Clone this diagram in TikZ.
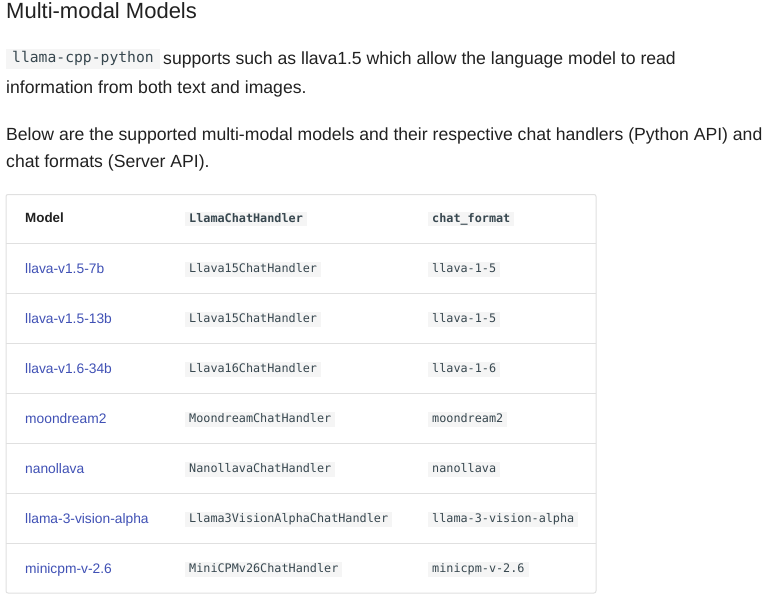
\documentclass[tikz,border=0pt]{standalone}
\usepackage{fontspec}
\setmainfont{Liberation Sans}
\setmonofont{DejaVu Sans Mono}
\definecolor{fg}{HTML}{212121}
\definecolor{linkc}{HTML}{4051B5}
\definecolor{rule}{HTML}{E0E0E0}
\definecolor{codebg}{HTML}{F5F5F5}
\definecolor{codefg}{HTML}{37474F}
\begin{document}
\begin{tikzpicture}[x=1pt,y=-1pt,
  txt/.style={inner sep=0pt, anchor=base west, text=fg, font=\fontsize{17.6}{22}\selectfont},
  titletxt/.style={inner sep=0pt, anchor=base west, text=fg, font=\fontsize{22}{26}\selectfont},
  inlinecode/.style={fill=codebg, text=codefg, inner xsep=6pt, inner ysep=2.5pt, text height=11pt, text depth=4pt, anchor=west, font=\ttfamily\fontsize{14.7}{18}\selectfont},
  cellcode/.style={fill=codebg, text=codefg, inner xsep=4pt, inner ysep=1.2pt, text height=9.2pt, text depth=3pt, anchor=west, font=\ttfamily\fontsize{11.8}{14}\selectfont},
  headcode/.style={cellcode, font=\ttfamily\bfseries\fontsize{11.8}{14}\selectfont},
  linktxt/.style={inner sep=0pt, anchor=base west, text=linkc, font=\fontsize{13.8}{16}\selectfont},
  headtxt/.style={inner sep=0pt, anchor=base west, text=fg, font=\bfseries\fontsize{13.4}{16}\selectfont},
  rowrule/.style={draw=rule, line width=1pt}
]
\useasboundingbox[fill=white] (0,0) rectangle (770,606);

% title and paragraphs
\node[titletxt] (title) at (6,18.5) {Multi-modal Models};
\node[inlinecode] (lcp) at (6,59) {llama-cpp-python};
\node[txt] (p1a) at (163,64) {supports such as llava1.5 which allow the language model to read};
\node[txt] (p1b) at (6,93) {information from both text and images.};
\node[txt] (p2a) at (6,140) {Below are the supported multi-modal models and their respective chat handlers (Python API) and};
\node[txt] (p2b) at (6,167) {chat formats (Server API).};

% table frame
\draw[rule, line width=1pt, rounded corners=2pt] (6,194.5) rectangle (596,593);
\foreach \k in {0,...,6} {
  \draw[rowrule] (6,243+50*\k) -- (596,243+50*\k);
}

% header
\node[headtxt] (hm) at (25,222.5) {Model};
\node[headcode] (hh) at (185,219) {LlamaChatHandler};
\node[headcode] (hf) at (428,219) {chat\_format};

% rows
\foreach \m/\h/\f [count=\i] in {
  llava-v1.5-7b/Llava15ChatHandler/llava-1-5,
  llava-v1.5-13b/Llava15ChatHandler/llava-1-5,
  llava-v1.6-34b/Llava16ChatHandler/llava-1-6,
  moondream2/MoondreamChatHandler/moondream2,
  nanollava/NanollavaChatHandler/nanollava,
  llama-3-vision-alpha/Llama3VisionAlphaChatHandler/llama-3-vision-alpha,
  minicpm-v-2.6/MiniCPMv26ChatHandler/minicpm-v-2.6} {
  \node[linktxt] (m\i) at (25,273+50*\i-50) {\m};
  \node[cellcode] (h\i) at (185,269.5+50*\i-50) {\h};
  \node[cellcode] (f\i) at (428,269.5+50*\i-50) {\f};
}
\end{tikzpicture}
\end{document}
